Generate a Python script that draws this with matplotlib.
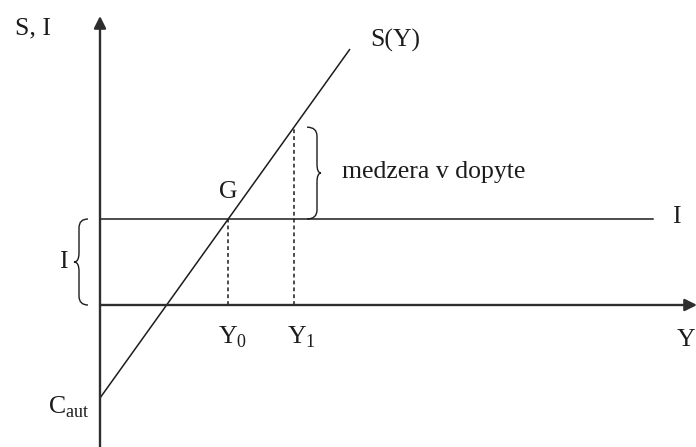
import numpy as np
import matplotlib as mpl
mpl.use('Agg')
import matplotlib.pyplot as plt
from matplotlib.path import Path
from matplotlib.patches import PathPatch

plt.rcParams["font.family"] = "Liberation Serif"
plt.rcParams["mathtext.fontset"] = "custom"
plt.rcParams["mathtext.rm"] = "Liberation Serif"

# model values (same scale on both axes)
C_aut = -0.93        # autonomous consumption (S intercept)
I_level = 0.86       # investment
mps = 1.396          # slope of S(Y)
Y_max_S = 2.5        # where the S line stops
Y_max_I = 5.53       # where the I line stops
Y1 = 1.94

Y0 = (I_level - C_aut) / mps
S_Y1 = C_aut + mps * Y1

ink = '#1c1c1c'
axcol = '#2e2e2e'

fig = plt.figure(figsize=(6.96, 4.47), dpi=100)
ax = fig.add_axes([0, 0, 1, 1])
ax.set_xlim(-1.0, 5.96)
ax.set_ylim(-1.42, 3.05)
ax.axis('off')

# axes with arrows
arr = dict(arrowstyle='-|>', lw=1.7, color=axcol, mutation_scale=18, shrinkA=0, shrinkB=0)
ax.annotate('', xy=(5.97, 0), xytext=(0, 0), arrowprops=arr, annotation_clip=False)
ax.annotate('', xy=(0, 2.89), xytext=(0, -1.45), arrowprops=arr, annotation_clip=False)

# S(Y) and I lines
ys = np.array([0, Y_max_S])
ax.plot(ys, C_aut + mps * ys, color=ink, lw=1.1, solid_capstyle='butt')
ax.plot([0, Y_max_I], [I_level, I_level], color=ink, lw=1.1)

# dashed drop lines
ax.plot([Y0, Y0], [0, I_level], color=ink, lw=1.1, ls=(0, (2.5, 2)))
ax.plot([Y1, Y1], [0, S_Y1], color=ink, lw=1.1, ls=(0, (2.5, 2)))


def brace(x_end, x_spine, x_tip, ya, yb):
    ym = (ya + yb) / 2
    r = 0.09
    verts = [(x_end, yb), (x_spine, yb), (x_spine, yb - r),
             (x_spine, ym + r), (x_spine, ym), (x_tip, ym),
             (x_spine, ym), (x_spine, ym - r),
             (x_spine, ya + r), (x_spine, ya), (x_end, ya)]
    codes = [Path.MOVETO, Path.CURVE3, Path.CURVE3,
             Path.LINETO, Path.CURVE3, Path.CURVE3,
             Path.CURVE3, Path.CURVE3,
             Path.LINETO, Path.CURVE3, Path.CURVE3]
    ax.add_patch(PathPatch(Path(verts, codes), fill=False, ec=ink, lw=1.0))


brace(-0.12, -0.21, -0.26, 0, I_level)
brace(2.07, 2.17, 2.21, I_level, S_Y1)

fs = 18.5
ax.text(-0.85, 2.77, 'S, I', fontsize=fs, ha='left', va='center', color=ink)
ax.text(2.70, 2.65, 'S(Y)', fontsize=fs, ha='left', va='center', color=ink)
ax.text(Y0, I_level + 0.27, 'G', fontsize=fs, ha='center', va='center', color=ink)
ax.text(2.42, 1.33, 'medzera v dopyte', fontsize=fs, ha='left', va='center', color=ink)
ax.text(5.72, I_level + 0.02, 'I', fontsize=fs, ha='left', va='center', color=ink)
ax.text(-0.37, I_level / 2, 'I', fontsize=fs, ha='center', va='center', color=ink)
ax.text(Y0 + 0.04, -0.32, r'$\mathrm{Y}_0$', fontsize=fs, ha='center', va='center', color=ink)
ax.text(Y1 + 0.07, -0.32, r'$\mathrm{Y}_1$', fontsize=fs, ha='center', va='center', color=ink)
ax.text(5.95, -0.35, 'Y', fontsize=fs, ha='right', va='center', color=ink)
ax.text(-0.31, C_aut - 0.09, r'$\mathrm{C}_{\mathrm{aut}}$', fontsize=fs, ha='center', va='center', color=ink)

plt.savefig('out.png', dpi=100, facecolor='w')
